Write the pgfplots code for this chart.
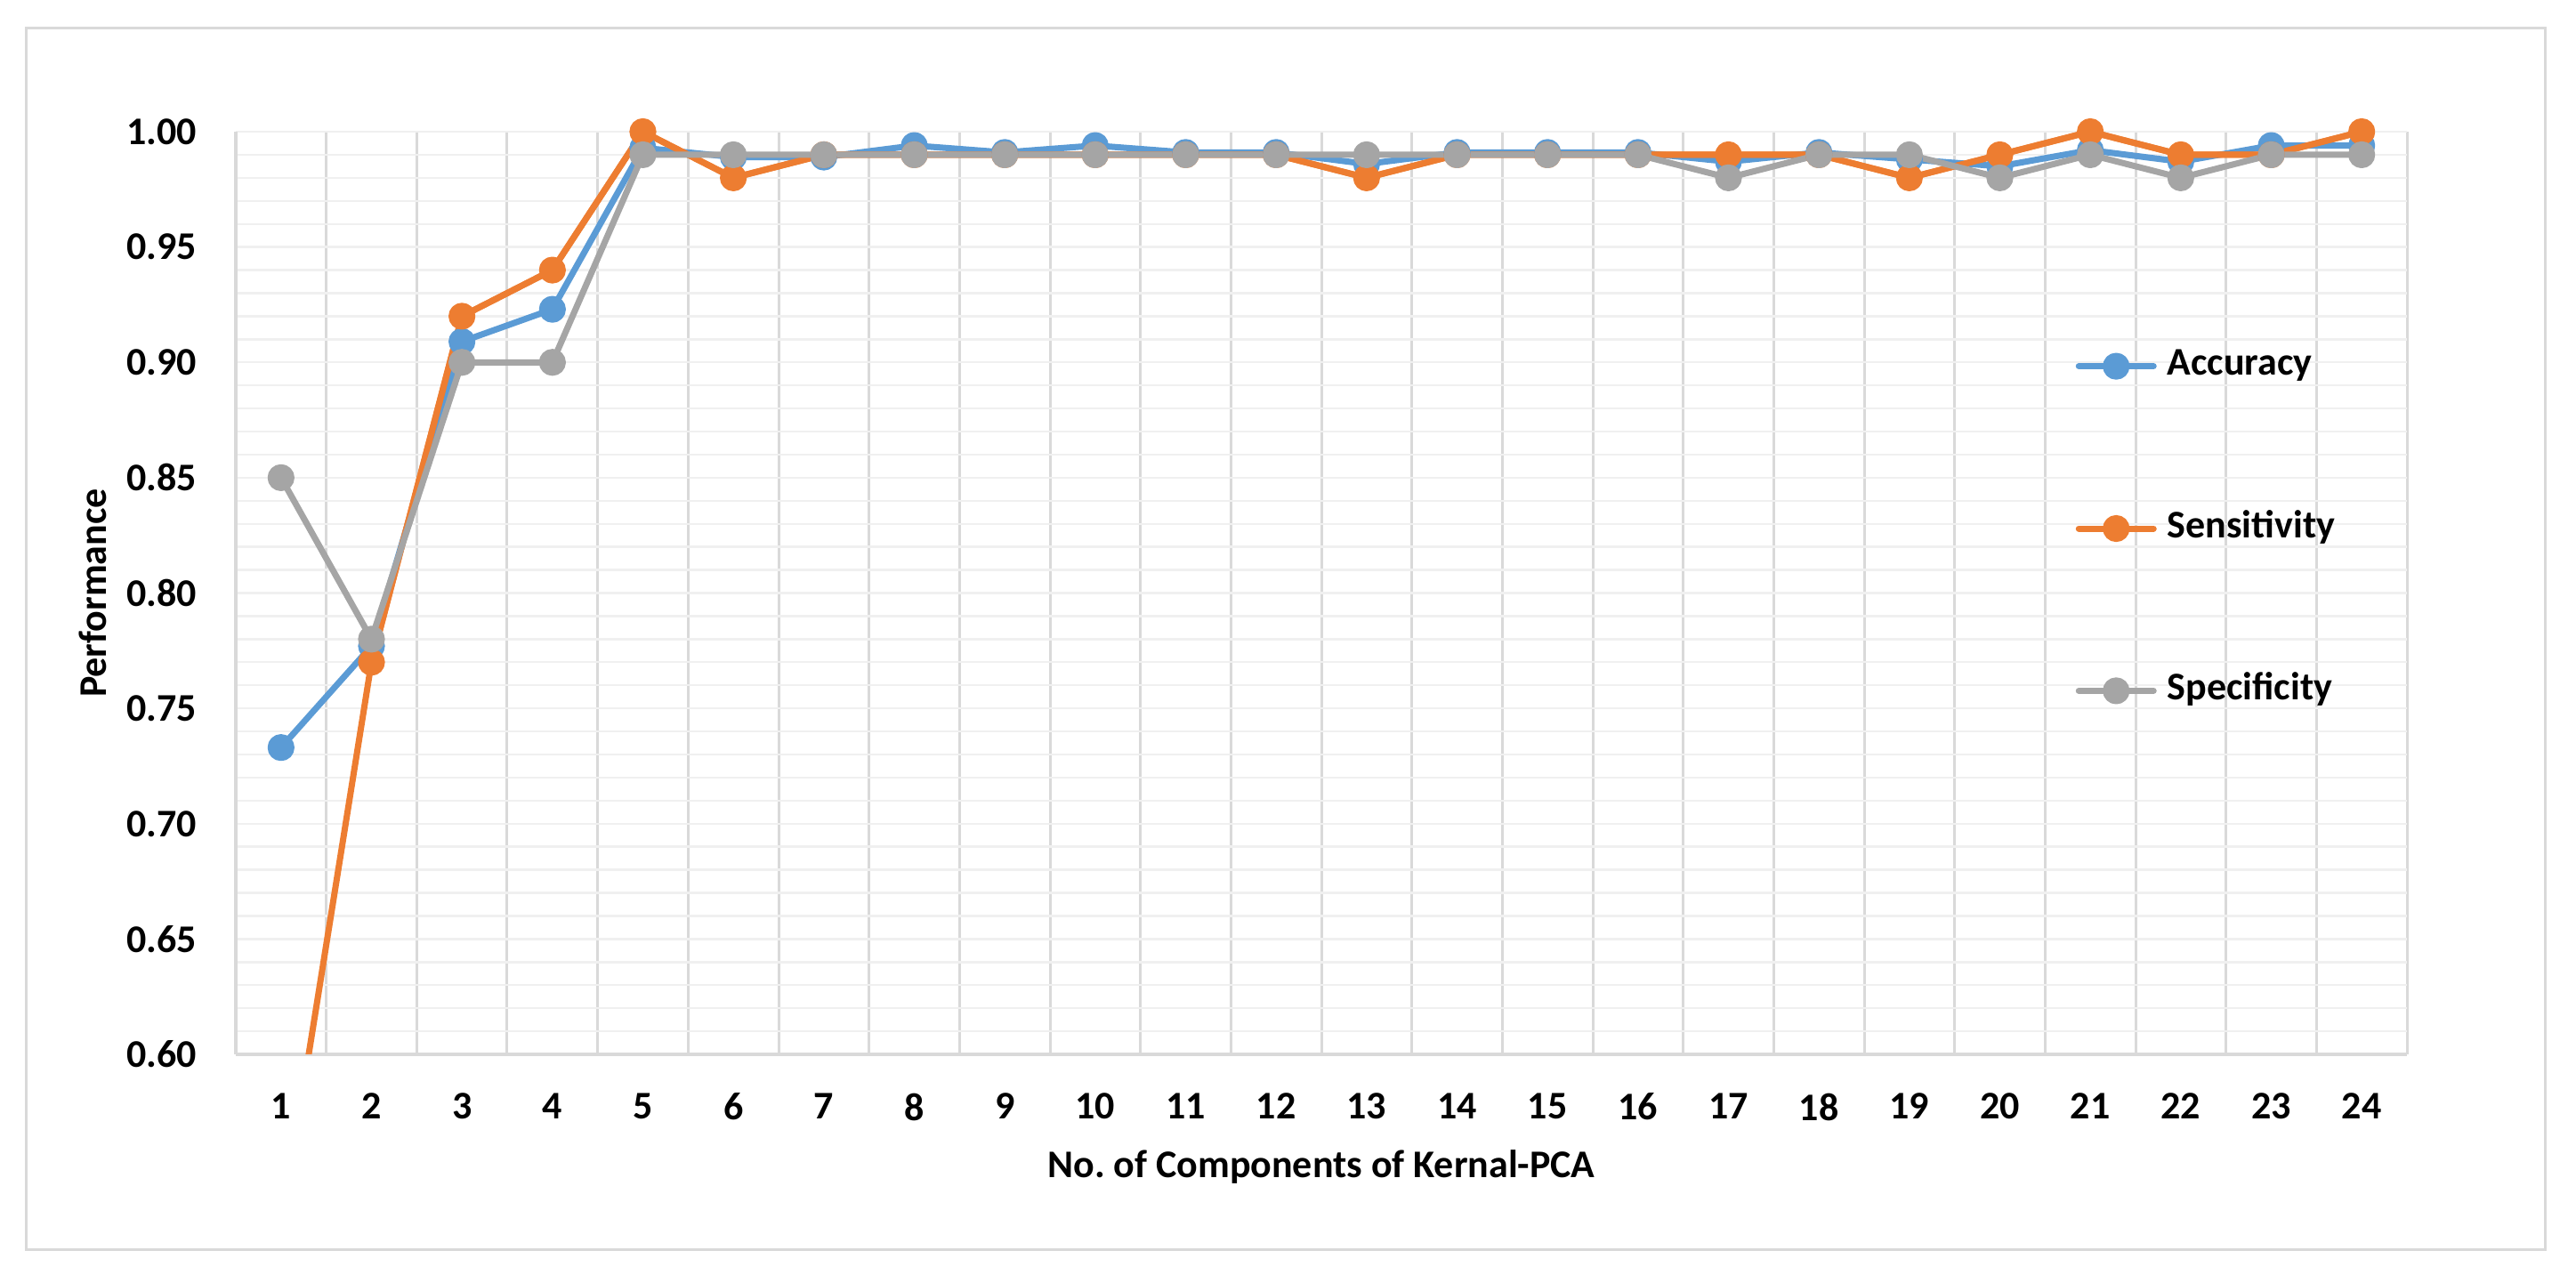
\documentclass[border=0pt]{standalone}
\usepackage{fontspec}
\setmainfont{Carlito}
\usepackage{pgfplots}
\usepackage{pgfplotstable}
\pgfplotsset{compat=1.18}

\definecolor{accblue}{HTML}{5B9BD5}
\definecolor{senorange}{HTML}{ED7D31}
\definecolor{spegray}{HTML}{A5A5A5}
\definecolor{gridv}{HTML}{D9D9D9}
\definecolor{gridh}{HTML}{F0F0F0}

% n = number of kernel-PCA components
\pgfplotstableread{
n  acc    sen    spe
1  0.733  0.525  0.85
2  0.777  0.770  0.78
3  0.909  0.920  0.90
4  0.923  0.940  0.90
5  0.993  1.000  0.99
6  0.989  0.980  0.99
7  0.989  0.990  0.99
8  0.994  0.990  0.99
9  0.991  0.990  0.99
10 0.994  0.990  0.99
11 0.991  0.990  0.99
12 0.991  0.990  0.99
13 0.986  0.980  0.99
14 0.991  0.990  0.99
15 0.991  0.990  0.99
16 0.991  0.990  0.99
17 0.987  0.990  0.98
18 0.991  0.990  0.99
19 0.988  0.980  0.99
20 0.985  0.990  0.98
21 0.992  1.000  0.99
22 0.987  0.990  0.98
23 0.994  0.990  0.99
24 0.994  1.000  0.99
}\perf

\newcommand{\chartfont}{\fontsize{11bp}{13bp}\selectfont\bfseries}

\begin{document}
\begin{tikzpicture}
\begin{axis}[
    name=ax,
    scale only axis,
    width=610bp, height=259.25bp,
    xmin=0.5, xmax=24.5,
    ymin=0.6, ymax=1.0,
    xtick={1,...,24},
    minor xtick={0.5,1.5,...,24.5},
    ytick={0.60,0.65,0.70,0.75,0.80,0.85,0.90,0.95,1.00},
    minor y tick num=4,
    xminorgrids, ymajorgrids, yminorgrids,
    minor x grid style={draw=gridv, line width=0.75bp},
    major y grid style={draw=gridh, line width=0.6bp},
    minor y grid style={draw=gridh, line width=0.6bp},
    major tick length=0pt, minor tick length=0pt,
    axis x line*=bottom, axis y line*=left,
    axis line style={draw=gridv, line width=0.8bp},
    /pgf/number format/assume math mode=true,
    ticklabel style={font=\chartfont, inner sep=0pt},
    xticklabel style={anchor=north, yshift=-10.75bp},
    yticklabel style={anchor=east, xshift=-10.75bp,
        /pgf/number format/.cd, fixed, fixed zerofill, precision=2},
    xlabel={No.\ of Components of Kernal-PCA},
    ylabel={Performance},
    label style={font=\chartfont, inner sep=0pt},
    xlabel style={at={(rel axis cs:0.5,-0.13308)}, anchor=base},
    ylabel style={at={(rel axis cs:-0.059426,0.5)}, anchor=base},
    legend style={draw=none, fill=none, inner sep=0pt,
        at={(rel axis cs:0.8471,0.5699)}, anchor=west,
        row sep=36.6bp, column sep=3bp, font=\chartfont,
        nodes={inner sep=0pt, text height=7bp, text depth=2bp}},
    legend cell align=left,
    legend image code/.code={
        \draw[mark repeat=2, mark phase=2, line cap=round, #1]
        plot coordinates {(0bp,0bp) (10.5bp,0bp) (21bp,0bp)};},
    every axis plot/.append style={line width=1.75bp, line join=round,
        mark=*, mark size=2.9bp, mark options={solid}},
]
\addplot[color=accblue] table[x=n, y=acc]{\perf};
% full sensitivity line (point 1 lies below the axis), then marks from 2 on
\addplot[color=senorange, mark=none, forget plot] table[x=n, y=sen]{\perf};
\addplot[color=senorange, skip coords between index={0}{1}] table[x=n, y=sen]{\perf};
\addplot[color=spegray] table[x=n, y=spe]{\perf};
\legend{Accuracy, Sensitivity, Specificity}
\end{axis}
\draw[gridv, line width=0.75bp, shift={(ax.south west)}]
    (-58.75bp,-54.75bp) rectangle (648.75bp,288.25bp);
\pgfresetboundingbox
\path[use as bounding box, shift={(ax.south west)}]
    (-66.25bp,-64.25bp) rectangle (657.5bp,296.25bp);
\end{tikzpicture}
\end{document}
